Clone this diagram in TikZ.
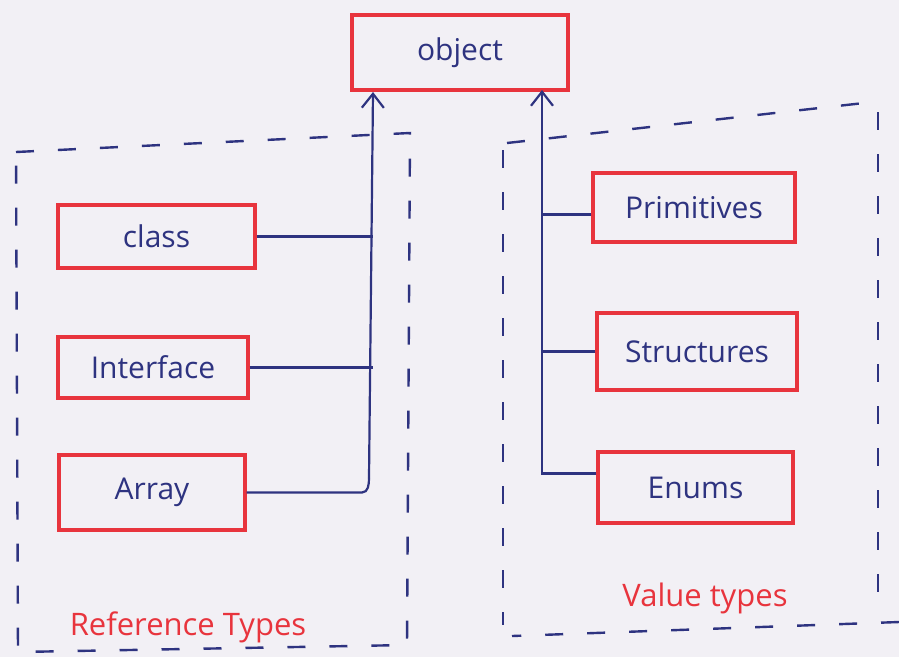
\documentclass[tikz,border=0pt]{standalone}
\usepackage{fontspec}
\setmainfont{Open Sans}
\usetikzlibrary{arrows.meta}
\definecolor{paper}{HTML}{F2F0F5}
\definecolor{ink}{HTML}{2E3380}
\definecolor{pen}{HTML}{E8343D}
\begin{document}
\begin{tikzpicture}[x=1pt,y=-1pt,
  typebox/.style={draw=pen,line width=3.2pt,text=ink,inner sep=0pt,
    font=\fontsize{30}{32}\selectfont},
  link/.style={draw=ink,line width=2.2pt},
  uparrow/.style={-{Straight Barb[length=14pt,width=22pt,line width=2.2pt]}},
  frame/.style={draw=ink,line width=2.4pt,dash pattern=on 18pt off 24pt},
  grouplabel/.style={text=pen,font=\fontsize{31}{33}\selectfont}]
\fill[paper] (0,0) rectangle (899,657);
\useasboundingbox (0,0) rectangle (899,657);

% root type
\node[typebox,minimum width=216pt,minimum height=75pt] (object) at (460,52.5) {object};

% reference types
\node[typebox,minimum width=197pt,minimum height=63pt] (class) at (156.5,236.5) {class};
\node[typebox,minimum width=190pt,minimum height=61pt] (interface) at (153,367.5) {Interface};
\node[typebox,minimum width=186pt,minimum height=75pt] (array) at (152,492.5) {Array};

% value types
\node[typebox,minimum width=202pt,minimum height=69pt] (primitives) at (694,207.5) {Primitives};
\node[typebox,minimum width=200pt,minimum height=77pt] (structures) at (697,351.5) {Structures};
\node[typebox,minimum width=195pt,minimum height=71pt] (enums) at (695.5,487.5) {Enums};

% group frames
\draw[frame] (16,152) -- (410,133) -- (407,645) -- (18,652) -- cycle;
\draw[frame] (507,143) -- (864,103);
\draw[frame] (878,112) -- (878,612);
\draw[frame] (899,622) -- (512,636);
\draw[frame] (503,150) -- (503,625);

\node[grouplabel] (reflabel) at (188,627) {Reference Types};
\node[grouplabel] (vallabel) at (705,598) {Value types};

% reference-type trunk
\coordinate (ltop) at (373,92);
\coordinate (lbend) at (369,478);
\draw[link,uparrow] (lbend) -- (ltop);
\draw[link] (array.east) -- ([xshift=-7pt]array.east -| lbend) to[out=0,in=-90] (lbend);
\draw[link] (class.east) -- (class.east -| ltop);
\draw[link] (interface.east) -- (interface.east -| ltop);

% value-type trunk
\coordinate (rtop) at (542,90);
\draw[link,uparrow] ([yshift=14pt]enums.west) -- ([yshift=14pt]enums.west -| rtop) -- (rtop);
\draw[link] ([yshift=-7pt]primitives.west) -- ([yshift=-7pt]primitives.west -| rtop);
\draw[link] (structures.west) -- (structures.west -| rtop);
\end{tikzpicture}
\end{document}
